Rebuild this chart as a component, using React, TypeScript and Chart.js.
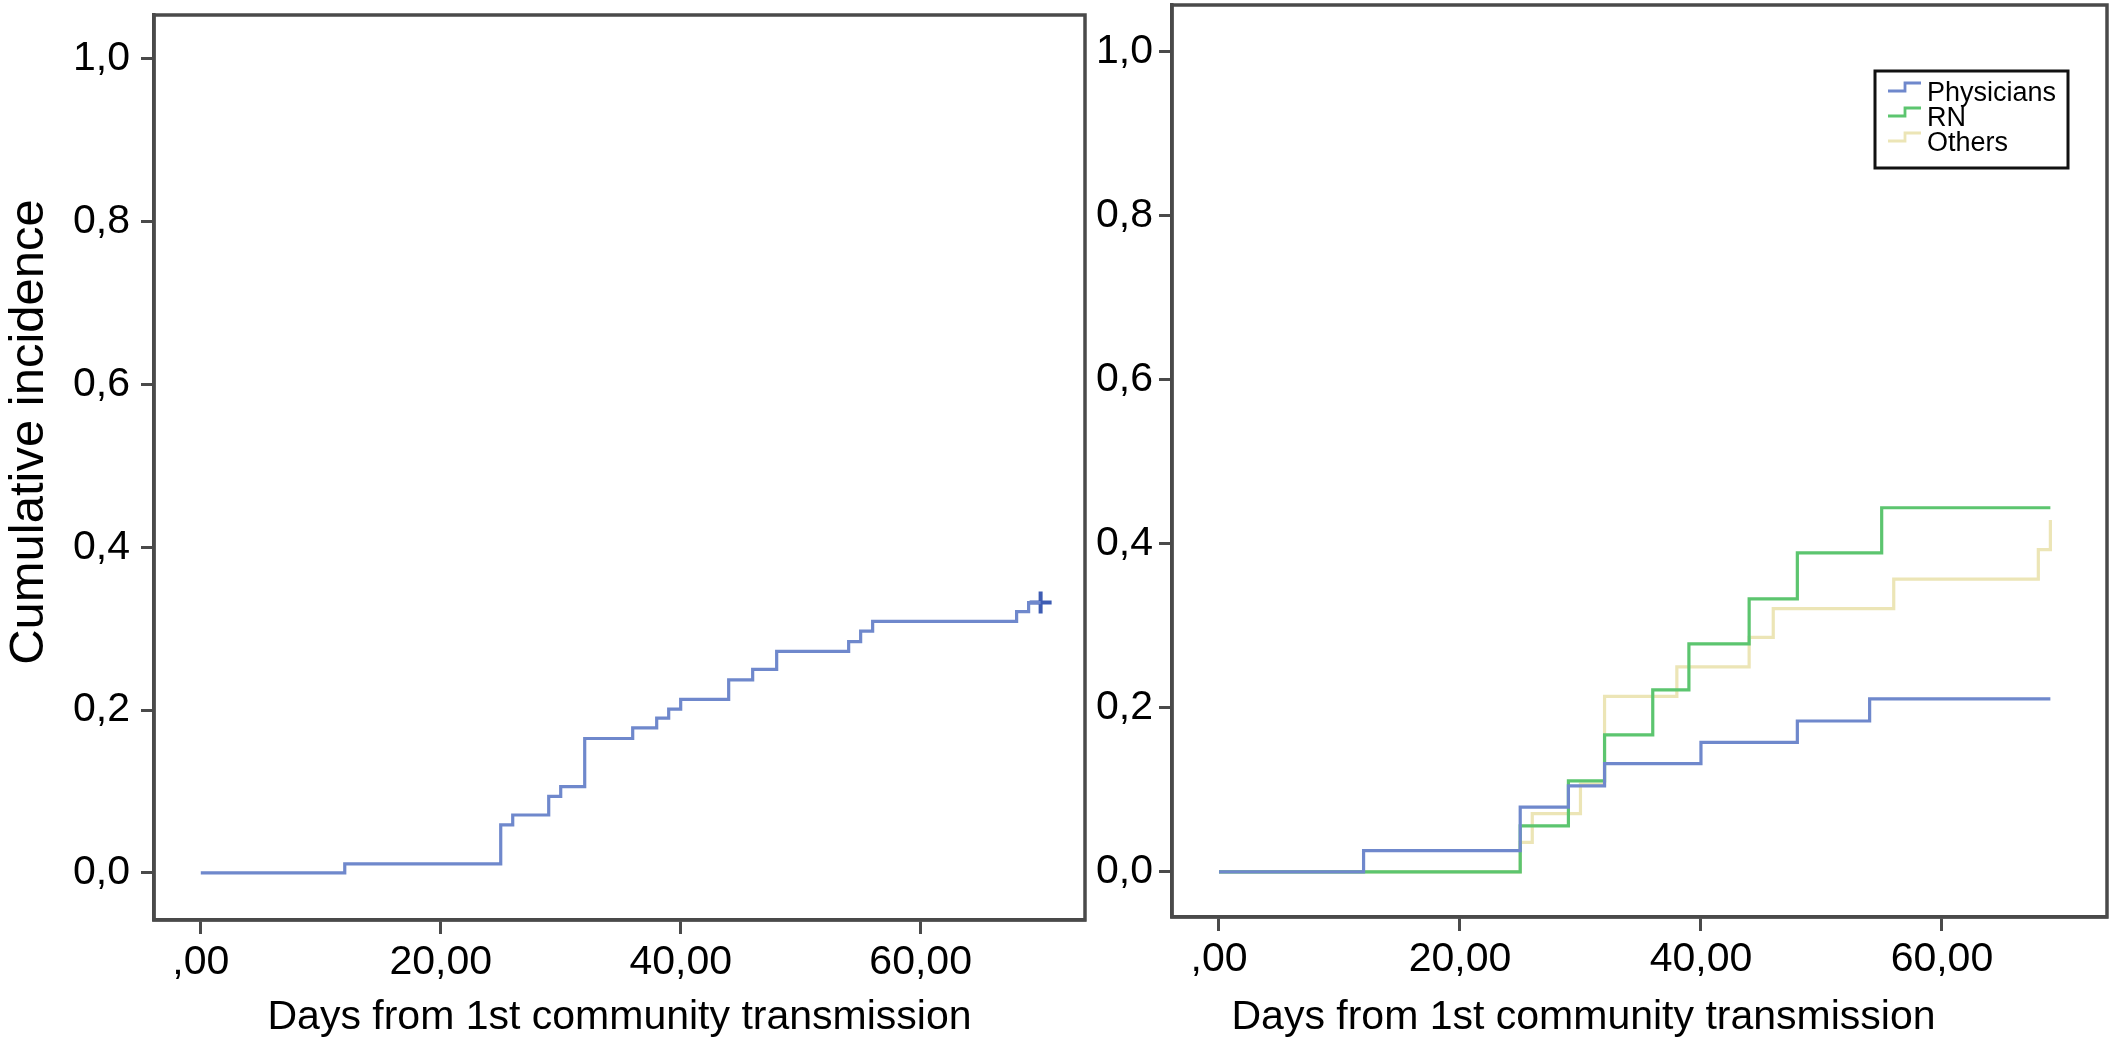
import React, { useEffect, useRef } from 'react';
import { Chart, registerables } from 'chart.js';

Chart.register(...registerables);

// ---------- data ----------
const xTickValues = [0, 20, 40, 60];
const xTickLabels = [',00', '20,00', '40,00', '60,00'];
const yTickValues = [0, 0.2, 0.4, 0.6, 0.8, 1.0];
const yTickLabels = ['0,0', '0,2', '0,4', '0,6', '0,8', '1,0'];

// left panel: all staff
const allDays = [0, 12, 25, 26, 29, 30, 32, 36, 38, 39, 40, 44, 46, 48, 54, 55, 56, 68, 69, 70];
const allIncidence = [0, 0.011, 0.059, 0.071, 0.094, 0.106, 0.165, 0.178, 0.19, 0.201, 0.213, 0.237, 0.25, 0.272, 0.284, 0.297, 0.309, 0.321, 0.332, 0.332];
const censorDays = [70];
const censorIncidence = [0.332];

// right panel: by profession
const seriesNames = ['Physicians', 'RN', 'Others'];
const physDays = [0, 12, 25, 29, 32, 40, 48, 54, 69];
const physIncidence = [0, 0.026, 0.079, 0.105, 0.132, 0.158, 0.184, 0.211, 0.211];
const rnDays = [0, 25, 29, 32, 36, 39, 44, 48, 55, 69];
const rnIncidence = [0, 0.056, 0.111, 0.167, 0.222, 0.278, 0.333, 0.389, 0.444, 0.444];
const othersDays = [0, 25, 26, 30, 32, 38, 44, 46, 56, 68, 69];
const othersIncidence = [0, 0.036, 0.071, 0.107, 0.214, 0.25, 0.286, 0.321, 0.357, 0.393, 0.429];

const xTitle = 'Days from 1st community transmission';
const yTitle = 'Cumulative incidence';

// ---------- styles ----------
const FONT = '"Liberation Sans", Arial, Helvetica, sans-serif';
const AXIS = '#4a4a4a';
const BLUE = '#6f88cc';
const BLUE_DARK = '#3d5cb3';
const GREEN = '#5cc56f';
const PALE = '#ece5b6';

const toPts = (xs: number[], ys: number[]) => xs.map((x, i) => ({ x, y: ys[i] }));

const framePlugin = {
  id: 'frameBox',
  afterDraw(chart: any) {
    const { ctx, chartArea: a } = chart;
    ctx.save();
    ctx.strokeStyle = AXIS;
    ctx.lineWidth = 3.5;
    ctx.strokeRect(a.left, a.top, a.right - a.left, a.bottom - a.top);
    ctx.restore();
  },
};

const titlesPlugin = {
  id: 'axisTitles',
  afterDraw(chart: any, _args: any, opts: any) {
    const { ctx, chartArea: a } = chart;
    ctx.save();
    ctx.fillStyle = '#000000';
    ctx.textAlign = 'center';
    ctx.textBaseline = 'middle';
    if (opts && opts.x) {
      ctx.font = `41px ${FONT}`;
      ctx.fillText(opts.x.text, (a.left + a.right) / 2 + opts.x.dx, chart.height - opts.x.fromBottom);
    }
    if (opts && opts.y) {
      ctx.translate(opts.y.cx, opts.y.cy);
      ctx.rotate(-Math.PI / 2);
      ctx.font = `49px ${FONT}`;
      ctx.fillText(opts.y.text, 0, 0);
    }
    ctx.restore();
  },
};

const legendPlugin = {
  id: 'kmLegend',
  afterDraw(chart: any, _args: any, opts: any) {
    if (!opts || !opts.display) return;
    const { ctx, chartArea: a } = chart;
    const w = 193;
    const h = 97;
    const x = a.right - 39 - w;
    const y = a.top + 66;
    ctx.save();
    ctx.fillStyle = '#ffffff';
    ctx.fillRect(x, y, w, h);
    ctx.strokeStyle = '#111111';
    ctx.lineWidth = 3;
    ctx.strokeRect(x, y, w, h);
    ctx.font = `27px ${FONT}`;
    ctx.textBaseline = 'middle';
    ctx.textAlign = 'left';
    chart.data.datasets.forEach((ds: any, i: number) => {
      const cy = y + 22 + i * 25;
      ctx.strokeStyle = ds.borderColor;
      ctx.lineWidth = 2.8;
      ctx.beginPath();
      ctx.moveTo(x + 13, cy - 2);
      ctx.lineTo(x + 30, cy - 2);
      ctx.lineTo(x + 30, cy - 10);
      ctx.lineTo(x + 46, cy - 10);
      ctx.stroke();
      ctx.fillStyle = '#000000';
      ctx.fillText(ds.label, x + 52, cy + 1);
    });
    ctx.restore();
  },
};

function makeOptions(p: {
  yWidth: number; xHeight: number; padTop: number; padRight: number;
  yMin: number; yMax: number; yPad: number; legend: boolean; titles: any;
}) {
  return {
    animation: false,
    responsive: true,
    maintainAspectRatio: false,
    layout: { padding: { top: p.padTop, right: p.padRight, left: 0, bottom: 0 } },
    plugins: {
      legend: { display: false },
      tooltip: { enabled: false },
      kmLegend: { display: p.legend },
      axisTitles: p.titles,
    },
    scales: {
      x: {
        type: 'linear',
        min: -3.9,
        max: 73.7,
        afterBuildTicks: (s: any) => { s.ticks = xTickValues.map((v) => ({ value: v })); },
        afterFit: (s: any) => {
          s.height = p.xHeight;
          s.paddingLeft = 0;
          s.paddingRight = 0;
        },
        ticks: {
          color: '#000',
          font: { family: FONT, size: 41 },
          padding: 4,
          maxRotation: 0,
          autoSkip: false,
          callback: (_v: any, i: number) => xTickLabels[i],
        },
        grid: {
          display: true,
          drawOnChartArea: false,
          drawTicks: true,
          tickLength: 14,
          tickWidth: 3,
          tickColor: AXIS,
          color: AXIS,
        },
        border: { display: true, color: AXIS, width: 3.5 },
        title: { display: false },
      },
      y: {
        type: 'linear',
        min: p.yMin,
        max: p.yMax,
        afterBuildTicks: (s: any) => { s.ticks = yTickValues.map((v) => ({ value: v })); },
        afterFit: (s: any) => {
          s.width = p.yWidth;
          s.paddingTop = 0;
          s.paddingBottom = 0;
        },
        ticks: {
          color: '#000',
          font: { family: FONT, size: 41 },
          padding: p.yPad,
          autoSkip: false,
          callback: (_v: any, i: number) => yTickLabels[i],
        },
        grid: {
          display: true,
          drawOnChartArea: false,
          drawTicks: true,
          tickLength: 13,
          tickWidth: 3,
          tickColor: AXIS,
          color: AXIS,
        },
        border: { display: true, color: AXIS, width: 3.5 },
        title: { display: false },
      },
    },
  } as any;
}

export default function App() {
  const leftRef = useRef<HTMLCanvasElement | null>(null);
  const rightRef = useRef<HTMLCanvasElement | null>(null);

  useEffect(() => {
    Chart.defaults.font.family = FONT;
    const lineBase = { pointRadius: 0, borderWidth: 3.2, stepped: 'before', fill: false, tension: 0 };

    const left = new Chart(leftRef.current as HTMLCanvasElement, {
      type: 'line',
      data: {
        datasets: [
          {
            ...lineBase,
            label: 'All',
            data: toPts(allDays, allIncidence),
            borderColor: BLUE,
          },
          {
            label: 'Censored',
            data: toPts(censorDays, censorIncidence),
            showLine: false,
            pointStyle: 'cross',
            pointRadius: 11,
            pointBorderWidth: 4,
            borderColor: BLUE_DARK,
            backgroundColor: BLUE_DARK,
          },
        ],
      } as any,
      options: makeOptions({
        yWidth: 154, xHeight: 125, padTop: 8, padRight: 5, yMin: -0.058, yMax: 1.054, yPad: 11, legend: false,
        titles: { x: { text: xTitle, dx: 0, fromBottom: 27 }, y: { text: yTitle, cx: 29, cy: 432 } },
      }),
      plugins: [framePlugin, titlesPlugin],
    });

    const right = new Chart(rightRef.current as HTMLCanvasElement, {
      type: 'line',
      data: {
        datasets: [
          { ...lineBase, label: seriesNames[0], data: toPts(physDays, physIncidence), borderColor: BLUE },
          { ...lineBase, label: seriesNames[1], data: toPts(rnDays, rnIncidence), borderColor: GREEN },
          { ...lineBase, label: seriesNames[2], data: toPts(othersDays, othersIncidence), borderColor: PALE },
        ],
      } as any,
      options: makeOptions({
        yWidth: 80, xHeight: 128, padTop: 5, padRight: 12, yMin: -0.055, yMax: 1.057, yPad: 6, legend: true,
        titles: { x: { text: xTitle, dx: -56, fromBottom: 27 } },
      }),
      plugins: [framePlugin, legendPlugin, titlesPlugin],
    });

    return () => {
      left.destroy();
      right.destroy();
    };
  }, []);

  return (
    <div style={{ position: 'absolute', left: 0, top: 0, width: 2119, height: 1045, background: '#fff' }}>
      <div style={{ position: 'absolute', left: 0, top: 0, width: 1100, height: 1045 }}>
        <canvas ref={leftRef} />
      </div>
      <div style={{ position: 'absolute', left: 1092, top: 0, width: 1027, height: 1045 }}>
        <canvas ref={rightRef} />
      </div>
    </div>
  );
}
